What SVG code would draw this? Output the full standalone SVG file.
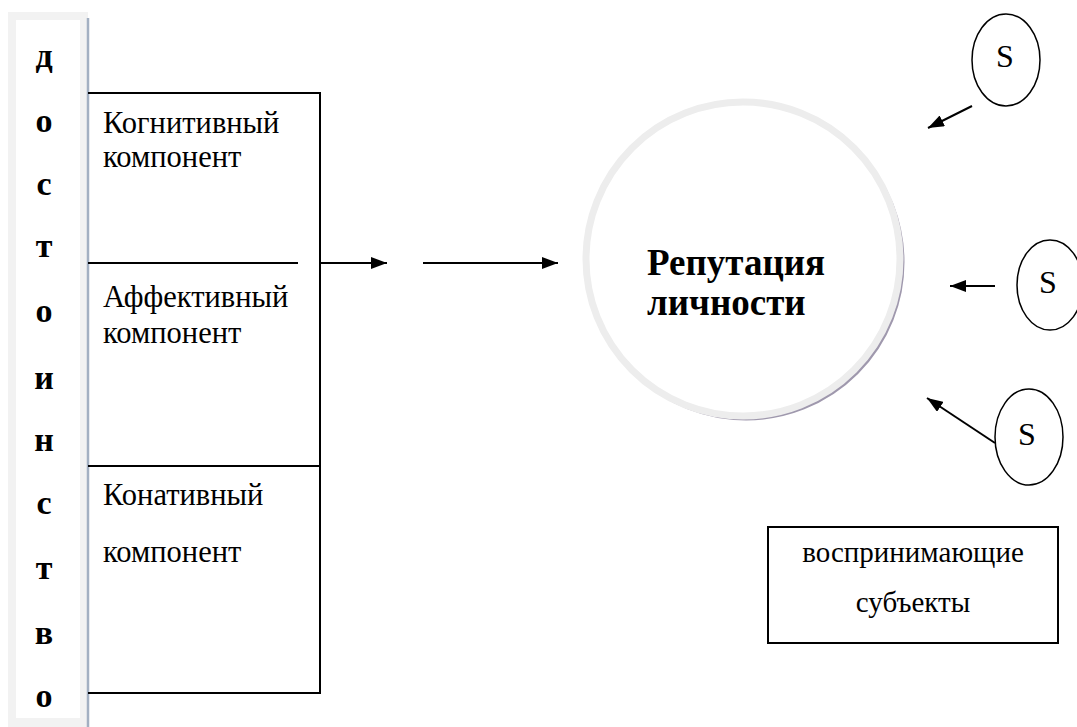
<svg xmlns="http://www.w3.org/2000/svg" width="1077" height="727" viewBox="0 0 1077 727">
<defs>
<style>
.t{font-family:"Liberation Serif","Times New Roman",serif;fill:#000}
.lbl{font-size:30.5px}
.v{font-size:34px;font-weight:bold;text-anchor:middle}
.big{font-size:37px;font-weight:bold}
.s{font-size:29px;text-anchor:middle}
.sl{font-size:32px;text-anchor:middle}
.ln{stroke:#000;stroke-width:2;fill:none}
.el{stroke:#000;stroke-width:1.5;fill:#fff}
</style>
<marker id="ah2" viewBox="0 0 16 12" refX="16" refY="6" markerWidth="16" markerHeight="12" markerUnits="userSpaceOnUse" orient="auto">
<path d="M0,0 L16,6 L0,12 z" fill="#000"/>
</marker>
</defs>
<rect width="1077" height="727" fill="#fff"/>

<g id="dostoinstvo">
<rect x="8" y="12" width="80" height="715" fill="#f2f2f2"/>
<rect x="16" y="20" width="64" height="698" fill="#fff"/>
<line x1="88" y1="18" x2="88" y2="727" stroke="#a3b0c2" stroke-width="2.5"/>
<text class="t v" x="44" y="67">д</text>
<text class="t v" x="44" y="132">о</text>
<text class="t v" x="44" y="195">с</text>
<text class="t v" x="44" y="257">т</text>
<text class="t v" x="44" y="322">о</text>
<text class="t v" x="44" y="389">и</text>
<text class="t v" x="44" y="451">н</text>
<text class="t v" x="44" y="514">с</text>
<text class="t v" x="44" y="579">т</text>
<text class="t v" x="44" y="644">в</text>
<text class="t v" x="44" y="707">о</text>
</g>

<g id="components">
<path class="ln" d="M88,93 H320 V693 H88"/>
<line class="ln" x1="88" y1="263" x2="298" y2="263"/>
<line class="ln" x1="88" y1="466" x2="320" y2="466"/>
<text class="t lbl" x="103" y="133">Когнитивный</text>
<text class="t lbl" x="103" y="167">компонент</text>
<text class="t lbl" x="103" y="307">Аффективный</text>
<text class="t lbl" x="103" y="343">компонент</text>
<text class="t lbl" x="103" y="505">Конативный</text>
<text class="t lbl" x="103" y="562">компонент</text>
</g>

<g id="reputation">
<circle cx="746" cy="262" r="157" fill="none" stroke="#9f98ad" stroke-width="3"/>
<circle cx="743" cy="259" r="157" fill="#fff" stroke="#ededed" stroke-width="7"/>
<text class="t big" x="647" y="275">Репутация</text>
<text class="t big" x="647" y="315">личности</text>
</g>

<g id="s1">
<ellipse class="el" cx="1006" cy="60" rx="34" ry="46"/>
<text class="t sl" x="1005" y="67">S</text>
</g>
<g id="s2">
<ellipse class="el" cx="1050" cy="285" rx="33" ry="45"/>
<text class="t sl" x="1048" y="293">S</text>
</g>
<g id="s3">
<ellipse class="el" cx="1029" cy="437" rx="34" ry="48"/>
<text class="t sl" x="1027" y="445">S</text>
</g>

<g id="subjects">
<rect x="768" y="527" width="290" height="116" fill="#fff" stroke="#000" stroke-width="2"/>
<text class="t s" x="913" y="562">воспринимающие</text>
<text class="t s" x="913" y="612">субъекты</text>
</g>

<g id="connectors">
<line class="ln" x1="320" y1="263" x2="387" y2="263" marker-end="url(#ah2)"/>
<line class="ln" x1="423" y1="263" x2="558" y2="263" marker-end="url(#ah2)"/>
<line class="ln" x1="972" y1="106" x2="928" y2="128" marker-end="url(#ah2)"/>
<line class="ln" x1="995" y1="286" x2="950" y2="286" marker-end="url(#ah2)"/>
<line class="ln" x1="995" y1="443" x2="927" y2="398" marker-end="url(#ah2)"/>
</g>
</svg>
